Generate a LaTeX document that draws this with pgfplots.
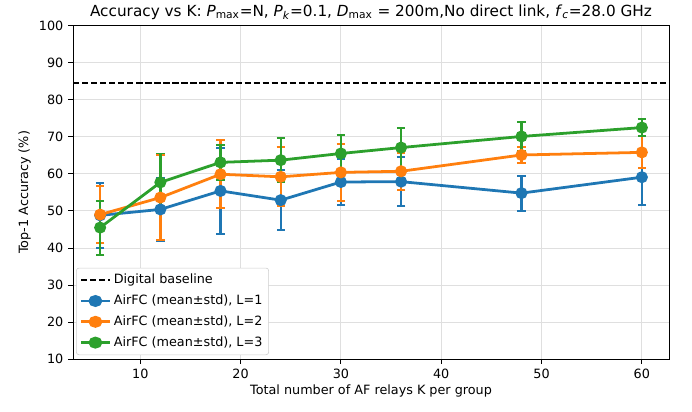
\documentclass[border=0pt]{standalone}
\usepackage{pgfplots}
\pgfplotsset{compat=1.18}
\usepackage{fontspec}
\setmainfont{DejaVu Sans}
\definecolor{c0}{HTML}{1F77B4}
\definecolor{c1}{HTML}{FF7F0E}
\definecolor{c2}{HTML}{2CA02C}
\begin{document}
\begin{tikzpicture}[x=1pt,y=1pt]
\begin{axis}[name=ax,
  scale only axis, width=429pt, height=240pt,
  xmin=3.3, xmax=62.7, ymin=10, ymax=100,
  xtick={10,20,30,40,50,60}, ytick={10,20,...,100},
  grid=major, grid style={gray!25, line width=0.6pt},
  tick align=outside, tick pos=left,
  major tick length=3.5pt,
  every tick/.style={black, line width=0.6pt},
  axis line style={line width=0.6pt},
  tick label style={font=\fontsize{9.2}{11}\selectfont},
  /pgf/number format/assume math mode=true,
  label style={font=\fontsize{9.2}{11}\selectfont},
  xlabel={Total number of AF relays K per group},
  xlabel style={yshift=2pt},
  ylabel={Top-1 Accuracy (\%)},
  ylabel style={yshift=-1pt},
  title={Accuracy vs K: \textit{P}\textsubscript{max}=N, \textit{P}\textsubscript{\textit{k}}=0.1, \textit{D}\textsubscript{max} = 200m,No direct link, \textit{f}\textsubscript{\textit{c}}=28.0 GHz},
  title style={font=\fontsize{11}{13}\selectfont, yshift=-5pt},
  legend style={at={(0.005,0.012)}, anchor=south west, font=\fontsize{9.2}{11}\selectfont,
    draw=gray!40, rounded corners=2pt, row sep=2.5pt, inner sep=2.5pt},
  legend cell align=left,
  legend image post style={xscale=1.2},
  /pgfplots/every error bar/.style={line width=1.7pt, solid},
]
\addplot[black, line width=1.3pt, dash pattern=on 4.5pt off 2pt] coordinates {(3.3,84.5) (62.7,84.5)};
\addlegendentry{Digital baseline}
\addplot[c0, line width=2pt, mark=*, mark size=3.3pt,
  error bars/.cd, y dir=both, y explicit, error bar style={line width=1.7pt},
  error mark options={rotate=90, mark size=3pt, line width=1.4pt}]
  table[x=x, y=y, y error=e] {
x y e
6 48.8 8.7
12 50.4 8.6
18 55.4 11.7
24 52.9 8.1
30 57.8 6.2
36 57.9 6.7
48 54.8 4.7
60 59.1 7.5
};
\addlegendentry{AirFC (mean±std), L=1}
\addplot[c1, line width=2pt, mark=*, mark size=3.3pt,
  error bars/.cd, y dir=both, y explicit, error bar style={line width=1.7pt},
  error mark options={rotate=90, mark size=3pt, line width=1.4pt}]
  table[x=x, y=y, y error=e] {
x y e
6 49.0 7.7
12 53.6 11.5
18 59.9 9.2
24 59.2 8.0
30 60.4 7.6
36 60.7 5.0
48 65.1 2.1
60 65.8 4.3
};
\addlegendentry{AirFC (mean±std), L=2}
\addplot[c2, line width=2pt, mark=*, mark size=3.3pt,
  error bars/.cd, y dir=both, y explicit, error bar style={line width=1.7pt},
  error mark options={rotate=90, mark size=3pt, line width=1.4pt}]
  table[x=x, y=y, y error=e] {
x y e
6 45.5 7.3
12 57.7 7.8
18 63.1 4.8
24 63.7 6.0
30 65.5 5.0
36 67.1 5.4
48 70.1 4.0
60 72.5 2.3
};
\addlegendentry{AirFC (mean±std), L=3}
\end{axis}
\path ([shift={(-52.6pt,-37.4pt)}]ax.south west) rectangle ([shift={(16.6pt,18pt)}]ax.north east);
\end{tikzpicture}
\end{document}
